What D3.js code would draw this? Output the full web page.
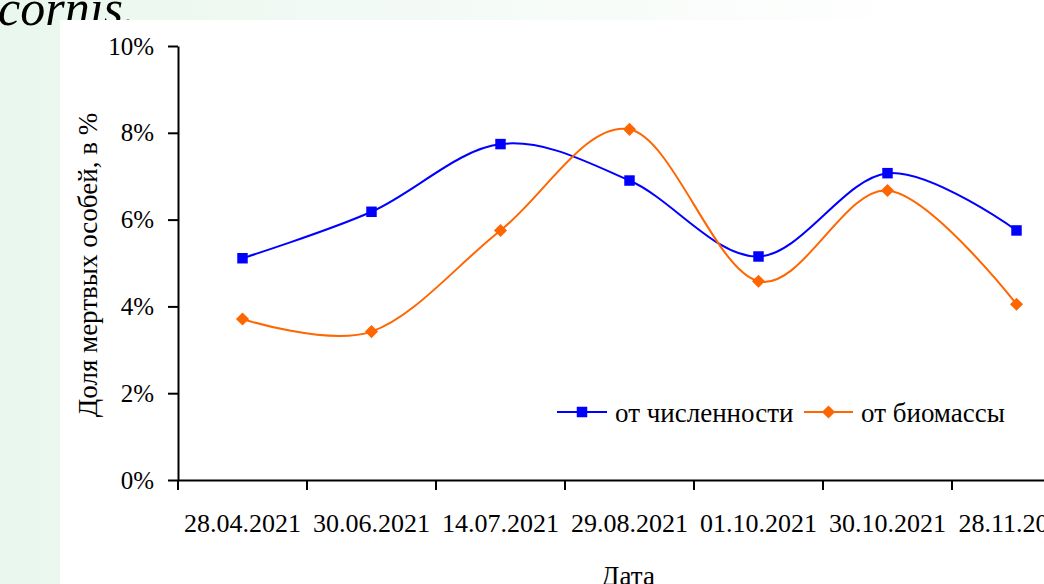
<!DOCTYPE html>
<html><head><meta charset="utf-8">
<script src="https://cdn.jsdelivr.net/npm/d3@7"></script>
<style>html,body{margin:0;padding:0;overflow:hidden;background:#fff}</style>
</head><body>
<script>
const categories = ["28.04.2021","30.06.2021","14.07.2021","29.08.2021","01.10.2021","30.10.2021","28.11.2021"];
const byCount = [0.0511, 0.0618, 0.0774, 0.0690, 0.0515, 0.0707, 0.0575];
const byBiomass = [0.0371, 0.0342, 0.0575, 0.0808, 0.0458, 0.0667, 0.0405];
const yTicks = [0, 0.02, 0.04, 0.06, 0.08, 0.10];
const seriesNames = ["от численности", "от биомассы"];

const W = 1044, H = 584;
const FONT = "'Liberation Serif','Times New Roman',serif";
const svg = d3.select("body").append("svg").attr("width", W).attr("height", H);
const defs = svg.append("defs");
const g = defs.append("linearGradient").attr("id","bg").attr("x1","0").attr("x2","1").attr("y1","0").attr("y2","0");
g.append("stop").attr("offset","0").attr("stop-color","#e9f7ee");
g.append("stop").attr("offset","0.6").attr("stop-color","#f8fcf9");
g.append("stop").attr("offset","0.9").attr("stop-color","#ffffff");
svg.append("rect").attr("width",W).attr("height",H).attr("fill","url(#bg)");
svg.append("text").attr("x",-2).attr("y",25).attr("font-family",FONT).attr("font-style","italic")
  .attr("font-size",50).attr("fill","#000").text("cornis.");
svg.append("rect").attr("x",60).attr("y",20).attr("width",W-60).attr("height",H-20).attr("fill","#fff");

const x0 = 178, step = 129, y0 = 480, yTop = 46;
const x = d3.scaleBand().domain(categories).range([x0, x0 + step*categories.length]).padding(0);
const y = d3.scaleLinear().domain([0, 0.10]).range([y0, yTop]);

// y axis
const yAxis = svg.append("g").attr("transform",`translate(${x0},0)`)
  .call(d3.axisLeft(y).tickValues(yTicks).tickFormat(d3.format(".0%")).tickSize(10).tickSizeOuter(0));
yAxis.select(".domain").attr("stroke","#000").attr("stroke-width",2);
yAxis.selectAll(".tick line").attr("stroke","#000").attr("stroke-width",2);
yAxis.selectAll(".tick text").attr("font-family",FONT).attr("font-size",25).attr("fill","#000").attr("x",-24);

// x axis
const xAxis = svg.append("g").attr("transform",`translate(0,${y0})`)
  .call(d3.axisBottom(x).tickSize(0).tickSizeOuter(0));
xAxis.select(".domain").attr("stroke","#000").attr("stroke-width",2);
xAxis.selectAll(".tick text").attr("font-family",FONT).attr("font-size",26).attr("fill","#000").attr("y",0).attr("dy",52);
// boundary ticks between categories
const bounds = categories.map(c => x(c));
svg.append("g").selectAll("line").data(bounds).join("line")
  .attr("x1",d=>d).attr("x2",d=>d).attr("y1",y0).attr("y2",y0+10)
  .attr("stroke","#000").attr("stroke-width",2);

const cx = c => x(c) + x.bandwidth()/2;
const line = d3.line().x((d,i)=>cx(categories[i])).y(d=>y(d)).curve(d3.curveCardinal.tension(0));

svg.append("path").datum(byCount).attr("d",line).attr("fill","none").attr("stroke","#0000ff").attr("stroke-width",2);
svg.append("path").datum(byBiomass).attr("d",line).attr("fill","none").attr("stroke","#ff6600").attr("stroke-width",2);

const sq = d3.symbol().type(d3.symbolSquare).size(110);
const dm = d3.symbol().type(d3.symbolDiamond2).size(110);
svg.append("g").selectAll("path").data(byCount).join("path")
  .attr("d",sq).attr("transform",(d,i)=>`translate(${cx(categories[i])},${y(d)})`).attr("fill","#0000ff");
svg.append("g").selectAll("path").data(byBiomass).join("path")
  .attr("d",dm).attr("transform",(d,i)=>`translate(${cx(categories[i])},${y(d)})`).attr("fill","#ff6600");

// legend
const lg = svg.append("g");
const legendItems = [
  {name: seriesNames[0], color:"#0000ff", sym: sq, x1: 557, x2: 607, tx: 615},
  {name: seriesNames[1], color:"#ff6600", sym: dm, x1: 804, x2: 853, tx: 861}
];
legendItems.forEach(it => {
  lg.append("line").attr("x1",it.x1).attr("x2",it.x2).attr("y1",412).attr("y2",412).attr("stroke",it.color).attr("stroke-width",2);
  lg.append("path").attr("d",it.sym).attr("transform",`translate(${(it.x1+it.x2)/2},412)`).attr("fill",it.color);
  lg.append("text").attr("x",it.tx).attr("y",422).attr("font-family",FONT).attr("font-size",27).attr("fill","#000").text(it.name);
});

// axis titles
svg.append("text").attr("transform","translate(97,265) rotate(-90)").attr("text-anchor","middle")
  .attr("font-family",FONT).attr("font-size",27).attr("fill","#000").text("Доля мертвых особей, в %");
svg.append("text").attr("x",628).attr("y",585).attr("text-anchor","middle")
  .attr("font-family",FONT).attr("font-size",27).attr("fill","#000").text("Дата");
</script>
</body></html>
